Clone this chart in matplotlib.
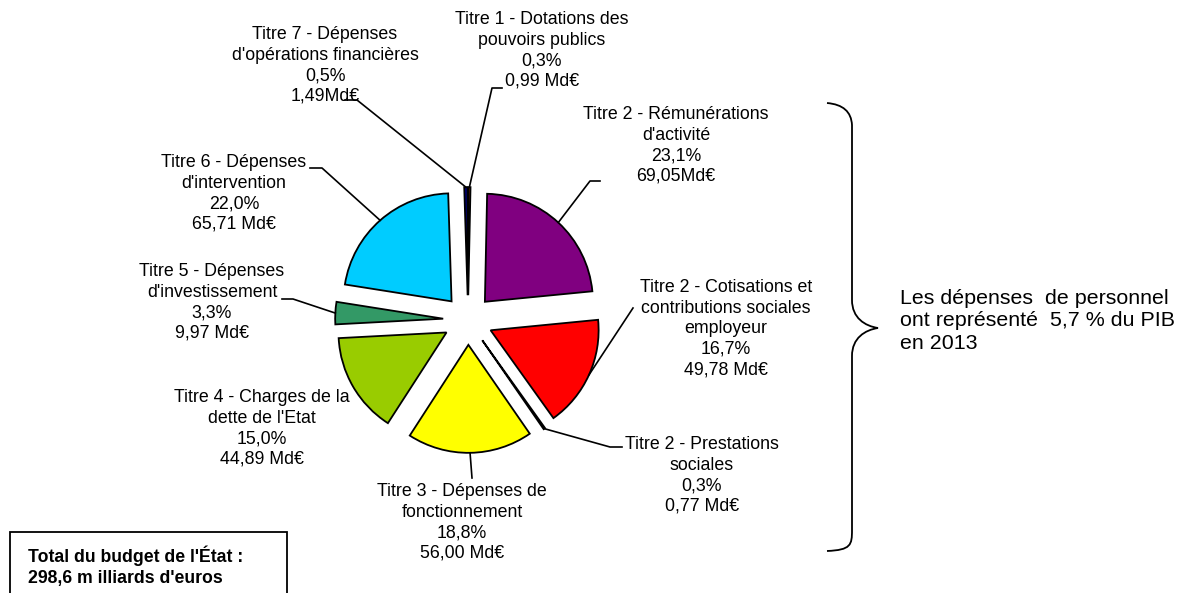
import numpy as np
import matplotlib.pyplot as plt
from matplotlib.path import Path
from matplotlib.patches import PathPatch, Rectangle

plt.rcParams['font.family'] = ['Liberation Sans', 'DejaVu Sans']

# budget 2013 by title, clockwise from 12 o'clock
names = ["Titre 1 - Dotations des\npouvoirs publics",
         "Titre 2 - Rémunérations\nd'activité",
         "Titre 2 - Cotisations et\ncontributions sociales\nemployeur",
         "Titre 2 - Prestations\nsociales",
         "Titre 3 - Dépenses de\nfonctionnement",
         "Titre 4 - Charges de la\ndette de l'Etat",
         "Titre 5 - Dépenses\nd'investissement",
         "Titre 6 - Dépenses\nd'intervention",
         "Titre 7 - Dépenses\nd'opérations financières"]
amounts = [0.99, 69.05, 49.78, 0.77, 56.00, 44.89, 9.97, 65.71, 1.49]
amount_txt = ["0,99 Md€", "69,05Md€", "49,78 Md€", "0,77 Md€", "56,00 Md€",
              "44,89 Md€", "9,97 Md€", "65,71 Md€", "1,49Md€"]
pct_txt = ["0,3%", "23,1%", "16,7%", "0,3%", "18,8%", "15,0%", "3,3%",
           "22,0%", "0,5%"]
colors = ["#993300", "#800080", "#FF0000", "#111111", "#FFFF00", "#99CC00",
          "#339966", "#00CCFF", "#000080"]

# label centre x and top y (pixels), leader elbow points
label_pos = [(542, 11), (676, 106), (726, 279), (702, 436), (462, 483),
             (262, 389), (212, 263), (234, 154), (325, 26)]
leaders = [[(492, 88), (502, 88)],
           [(590, 181), (600, 181)],
           [(633, 308)],
           [(610, 447), (622, 447)],
           [(472, 478)],
           None,
           [(293, 299), (282, 299)],
           [(322, 168), (310, 168)],
           [(357, 100), (345, 100)]]

fig = plt.figure(figsize=(11.79, 5.93), dpi=100)
ax = fig.add_axes([0, 0, 1, 1])

R = 108
cx, cy = 468, 320
wedges, _ = ax.pie(amounts, colors=colors, radius=R, center=(cx, cy),
                   startangle=-90, counterclock=True, explode=[0.23 * R] * 9,
                   wedgeprops=dict(edgecolor="black", linewidth=1.3))
ax.set_xlim(0, 1179)
ax.set_ylim(593, 0)
ax.set_aspect("equal")
ax.axis("off")

fs = 12.8
for i, w in enumerate(wedges):
    txt = names[i] + "\n" + pct_txt[i] + "\n" + amount_txt[i]
    lx, ly = label_pos[i]
    ax.text(lx, ly, txt, ha="center", va="top", fontsize=fs, linespacing=1.28)
    if leaders[i] is None:
        continue
    ang = np.deg2rad((w.theta1 + w.theta2) / 2)
    wx, wy = w.center
    px = wx + w.r * np.cos(ang)
    py = wy + w.r * np.sin(ang)
    pts = [(px, py)] + leaders[i]
    ax.plot([p[0] for p in pts], [p[1] for p in pts], color="black", lw=1.2)

# curly brace
verts = [(827, 103), (851, 105), (852, 125), (852, 140),
         (852, 300), (852, 318), (865, 326), (878, 328),
         (865, 330), (852, 338), (852, 356),
         (852, 530), (852, 545), (851, 550), (827, 551)]
codes = [Path.MOVETO, Path.CURVE3, Path.CURVE3, Path.LINETO,
         Path.LINETO, Path.CURVE4, Path.CURVE4, Path.CURVE4,
         Path.CURVE4, Path.CURVE4, Path.CURVE4,
         Path.LINETO, Path.CURVE4, Path.CURVE4, Path.CURVE4]
ax.add_patch(PathPatch(Path(verts, codes), facecolor="none",
                       edgecolor="black", lw=1.3))

ax.text(900, 289, "Les dépenses  de personnel\nont représenté  5,7 % du PIB\nen 2013",
        ha="left", va="top", fontsize=15.4, linespacing=1.22)

ax.add_patch(Rectangle((10, 532), 277, 70, facecolor="white",
                       edgecolor="black", lw=1.3, clip_on=False))
ax.text(28, 546, "Total du budget de l'État :\n298,6 m illiards d'euros",
        ha="left", va="top", fontsize=12.7, fontweight="bold",
        linespacing=1.25)

fig.savefig("out.png", dpi=100)
